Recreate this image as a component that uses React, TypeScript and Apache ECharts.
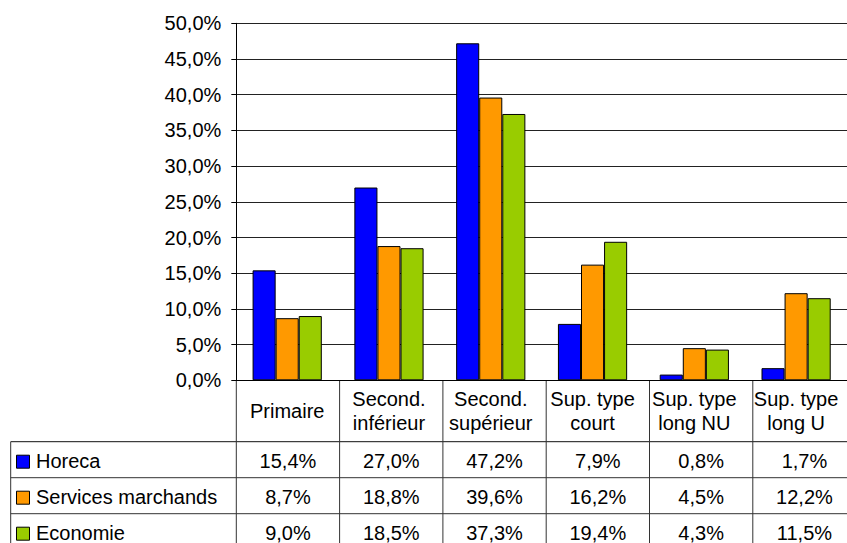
import React, { useEffect, useRef } from 'react';
import * as echarts from 'echarts';

const categories = ['Primaire', 'Second.\ninférieur', 'Second.\nsupérieur', 'Sup. type\ncourt', 'Sup. type\nlong NU', 'Sup. type\nlong U'];
const seriesNames = ['Horeca', 'Services marchands', 'Economie'];
const horeca = [15.4, 27.0, 47.2, 7.9, 0.8, 1.7];
const servicesMarchands = [8.7, 18.8, 39.6, 16.2, 4.5, 12.2];
const economie = [9.0, 18.5, 37.3, 19.4, 4.3, 11.5];
const seriesData = [horeca, servicesMarchands, economie];
const colors = ['#0000FF', '#FF9900', '#99CC00'];
const yMin = 0;
const yMax = 50;
const yInterval = 5;

const FONT = '"Liberation Sans", Arial, Helvetica, sans-serif';
const FS = 20;

const fmt = (v: number) => v.toFixed(1).replace('.', ',') + '%';

export default function App() {
  const ref = useRef<HTMLDivElement>(null);
  useEffect(() => {
    if (!ref.current) return;
    const chart = echarts.init(ref.current, undefined, { renderer: 'svg' });
    const W = 847;
    const H = 543;
    const plotLeft = 236.3;
    const plotRight = 856.1;
    const plotTop = 23.3;
    const plotBottom = 380.3;
    const catW = (plotRight - plotLeft) / categories.length;
    const headerBottom = 441.7;
    const rowH = 36;
    const tableLeft = 10.7;

    const graphic: any[] = [];
    const lineStyle = (c: string) => ({ stroke: c, lineWidth: 1 });
    // horizontal lines
    graphic.push({ type: 'line', shape: { x1: tableLeft, y1: headerBottom, x2: plotRight, y2: headerBottom }, style: lineStyle('#111') });
    for (let r = 1; r < seriesNames.length; r++) {
      const y = headerBottom + r * rowH;
      graphic.push({ type: 'line', shape: { x1: tableLeft, y1: y, x2: plotRight, y2: y }, style: lineStyle('#333') });
    }
    // vertical lines
    graphic.push({ type: 'line', shape: { x1: tableLeft, y1: headerBottom, x2: tableLeft, y2: H }, style: lineStyle('#333') });
    for (let i = 0; i <= categories.length; i++) {
      const x = plotLeft + i * catW;
      graphic.push({ type: 'line', shape: { x1: x, y1: plotBottom, x2: x, y2: H }, style: lineStyle('#333') });
    }
    // rows
    seriesNames.forEach((name, r) => {
      const cy = headerBottom + r * rowH + rowH / 2 + 1;
      graphic.push({ type: 'rect', shape: { x: 16.5, y: cy - 5.5, width: 13, height: 13 }, style: { fill: colors[r], stroke: '#000', lineWidth: 1 } });
      graphic.push({ type: 'text', x: 36, y: cy, style: { text: name, font: `${FS}px ${FONT}`, fill: '#000', align: 'left', verticalAlign: 'middle', textAlign: 'left', textVerticalAlign: 'middle' } });
      seriesData[r].forEach((v, i) => {
        const cx = plotLeft + (i + 0.5) * catW;
        graphic.push({ type: 'text', x: cx, y: cy, style: { text: fmt(v), font: `${FS}px ${FONT}`, fill: '#000', align: 'center', verticalAlign: 'middle', textAlign: 'center', textVerticalAlign: 'middle' } });
      });
    });

    chart.setOption({
      animation: false,
      backgroundColor: '#fff',
      textStyle: { fontFamily: FONT },
      grid: { left: plotLeft, top: plotTop, right: W - plotRight, bottom: H - plotBottom, containLabel: false },
      xAxis: {
        type: 'category',
        data: categories,
        axisLine: { show: true, lineStyle: { color: '#000', width: 1 } },
        axisTick: { show: false },
        axisLabel: { interval: 0, margin: 31, fontSize: FS, lineHeight: 24, color: '#000', fontFamily: FONT, verticalAlign: 'middle', align: 'center' },
        splitLine: { show: false },
      },
      yAxis: {
        type: 'value',
        min: yMin,
        max: yMax,
        interval: yInterval,
        axisLine: { show: true, lineStyle: { color: '#000', width: 1 } },
        axisTick: { show: true, length: 5, lineStyle: { color: '#000' } },
        axisLabel: { margin: 15, fontSize: FS, color: '#000', fontFamily: FONT, formatter: (v: number) => fmt(v) },
        splitLine: { show: true, lineStyle: { color: '#222', width: 1 } },
      },
      series: seriesNames.map((name, r) => ({
        name,
        type: 'bar',
        data: seriesData[r],
        barGap: '0%',
        barCategoryGap: '32%',
        itemStyle: { color: colors[r], borderColor: '#000', borderWidth: 1 },
      })),
      graphic,
    });
    return () => chart.dispose();
  }, []);
  return <div ref={ref} style={{ position: 'fixed', left: 0, top: 0, width: 847, height: 543 }} />;
}
